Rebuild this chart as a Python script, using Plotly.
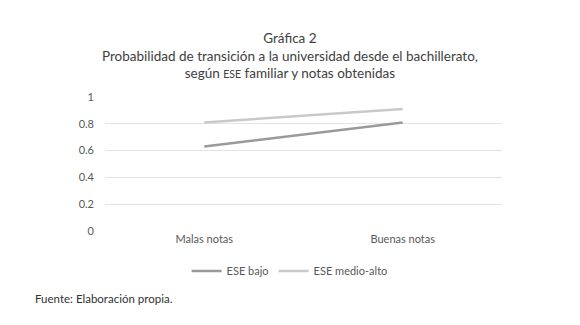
import plotly.graph_objects as go

categories = ["Malas notas", "Buenas notas"]
ese_bajo = [0.63, 0.81]
ese_medio_alto = [0.81, 0.91]
series_names = ["ESE bajo", "ESE medio-alto"]
y_ticks = [0, 0.2, 0.4, 0.6, 0.8, 1]
y_tick_labels = ["0", "0.2", "0.4", "0.6", "0.8", "1"]

FONT = "Lato"

fig = go.Figure()
fig.add_trace(go.Scatter(x=categories, y=ese_bajo, mode="lines", name=series_names[0],
                         line=dict(color="#9a9a9a", width=2.5)))
fig.add_trace(go.Scatter(x=categories, y=ese_medio_alto, mode="lines", name=series_names[1],
                         line=dict(color="#c9c9c9", width=2.5)))

fig.update_layout(
    width=580, height=325,
    margin=dict(l=105, r=78, t=97, b=94),
    paper_bgcolor="white", plot_bgcolor="white",
    font=dict(family=FONT, color="#595959", size=11),
    showlegend=True,
    legend=dict(orientation="h", x=0.465, xanchor="center", y=-0.19, yanchor="top",
                font=dict(size=11, color="#595959"), itemwidth=30, tracegroupgap=0),
    xaxis=dict(type="category", range=[-0.5, 1.5], showgrid=False, zeroline=False,
               showline=False, ticks="", tickfont=dict(size=11, color="#595959")),
    yaxis=dict(range=[0, 1], tickvals=y_ticks, ticktext=y_tick_labels, showgrid=True,
               gridcolor="#e3e3e3", gridwidth=1, zeroline=False, showline=False,
               ticks="", ticklabelstandoff=10, tickfont=dict(size=11, color="#595959")),
)

fig.add_annotation(
    text="Gráfica 2<br>Probabilidad de transición a la universidad desde el bachillerato,<br>"
         "según <span style='font-size:10.5px'>ESE</span> familiar y notas obtenidas",
    xref="paper", yref="paper", x=0.465, y=1.0, xanchor="center", yanchor="bottom",
    yshift=14, showarrow=False, align="center",
    font=dict(family=FONT, size=13.5, color="#404040"))

fig.add_annotation(
    text="Fuente: Elaboración propia.", xref="paper", yref="paper",
    x=-0.11, y=-0.5, xanchor="left", yanchor="middle", showarrow=False,
    xshift=-28, font=dict(family=FONT, size=11.5, color="#333333"))

fig.write_html("out.html")
